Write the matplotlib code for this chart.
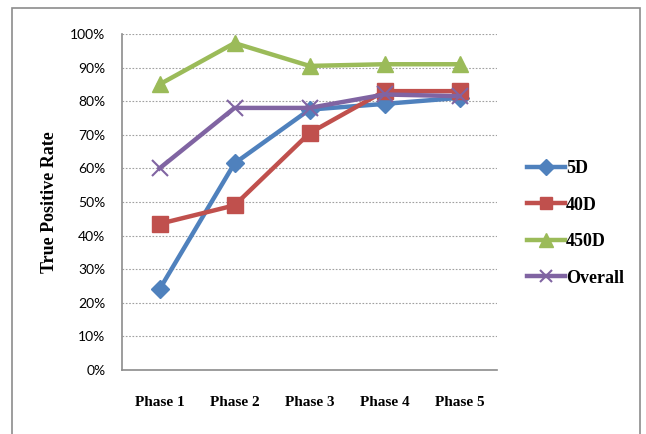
import matplotlib
matplotlib.use("Agg")
import matplotlib.pyplot as plt
from matplotlib.patches import Rectangle

phases = ["Phase 1", "Phase 2", "Phase 3", "Phase 4", "Phase 5"]
tpr_5d = [24.0, 61.5, 77.5, 79.2, 81.0]
tpr_40d = [43.5, 49.0, 70.5, 83.0, 83.0]
tpr_450d = [85.0, 97.3, 90.5, 91.0, 91.0]
tpr_overall = [60.0, 78.0, 78.0, 82.0, 81.5]
y_ticks = [0, 10, 20, 30, 40, 50, 60, 70, 80, 90, 100]

fig = plt.figure(figsize=(6.46, 4.34), dpi=100)
fig.patch.set_facecolor("white")

# outer chart frame
fig.patches.append(Rectangle((12 / 646, -0.02), 628 / 646, 1.02 - 8 / 434,
                             transform=fig.transFigure, fill=False,
                             edgecolor="#8c8c8c", linewidth=1.2))

ax = fig.add_axes([122 / 646, 1 - 370 / 434, 375 / 646, 336 / 434])
x = list(range(len(phases)))

series = [
    ("5D", tpr_5d, "#4F81BD", "D", 9),
    ("40D", tpr_40d, "#C0504D", "s", 11),
    ("450D", tpr_450d, "#9BBB59", "^", 12),
    ("Overall", tpr_overall, "#8064A2", "x", 11),
]
for name, vals, col, mk, ms in series:
    kw = dict(markeredgewidth=1.5) if mk == "x" else dict(markeredgecolor=col)
    ax.plot(x, vals, color=col, linewidth=3.2, marker=mk, markersize=ms,
            markerfacecolor=col, label=name, **kw)

ax.set_xlim(-0.5, len(phases) - 0.5)
ax.set_ylim(0, 100)
ax.set_yticks(y_ticks)
ax.set_yticklabels([f"{v}%" for v in y_ticks], family="Lato", fontsize=10)
ax.set_xticks(x)
ax.set_xticklabels(phases, family="Liberation Serif", fontweight="bold", fontsize=11)
ax.tick_params(axis="both", length=0)
ax.tick_params(axis="x", pad=19)
ax.tick_params(axis="y", pad=12)

ax.yaxis.grid(True, linestyle=(0, (1.5, 1.5)), color="#a0a0a0", linewidth=0.8)
ax.set_axisbelow(True)
for side in ("top", "right"):
    ax.spines[side].set_visible(False)
for side in ("left", "bottom"):
    ax.spines[side].set_color("#8c8c8c")
    ax.spines[side].set_linewidth(1.2)

ax.set_ylabel("True Positive Rate", family="Liberation Serif", fontweight="bold",
              fontsize=13, labelpad=9)

fig.legend(loc="upper left", bbox_to_anchor=(511 / 646, 1 - 144 / 434),
           frameon=False, prop={"family": "Liberation Serif", "weight": "bold", "size": 13},
           handlelength=2.1, handletextpad=0.05, labelspacing=1.08, markerscale=0.85)

fig.savefig("out.png", dpi=100)
